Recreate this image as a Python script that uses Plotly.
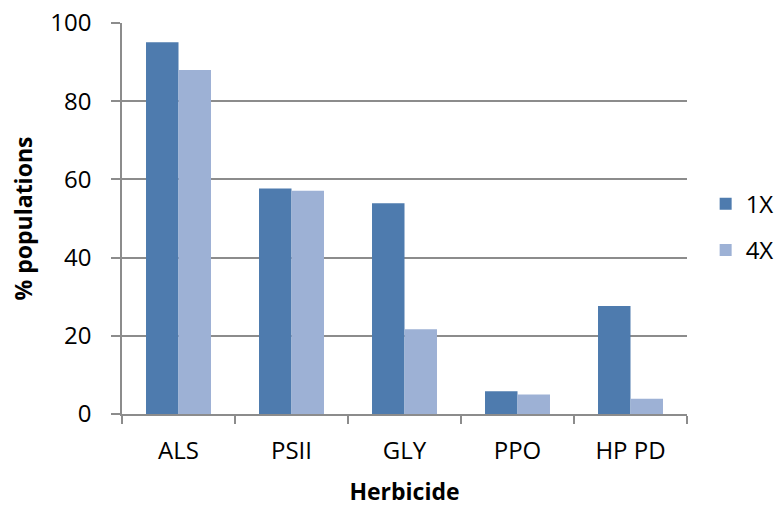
import plotly.graph_objects as go

categories = ["ALS", "PSII", "GLY", "PPO", "HP PD"]
series_names = ["1X", "4X"]
values_1x = [95.1, 57.7, 53.9, 5.8, 27.6]
values_4x = [88.0, 57.1, 21.7, 5.0, 3.9]
colors = ["#4E7BAE", "#9DB1D5"]
y_ticks = [0, 20, 40, 60, 80, 100]

FONT = "Open Sans"

fig = go.Figure()
for name, vals, col in zip(series_names, [values_1x, values_4x], colors):
    fig.add_trace(go.Bar(
        x=categories, y=vals, name=name, legendgroup=name,
        marker=dict(color=col, line=dict(width=0)),
    ))

fig.update_layout(
    width=777, height=508,
    margin=dict(l=122, r=90, t=23, b=94, autoexpand=False),
    paper_bgcolor="white", plot_bgcolor="white",
    barmode="group", bargap=0.425, bargroupgap=0,
    font=dict(family=FONT, color="#000000", size=24),
    legend=dict(
        x=1.033, y=0.478, xanchor="left", yanchor="middle",
        font=dict(size=24, family=FONT), tracegroupgap=12,
        itemwidth=30, bgcolor="rgba(0,0,0,0)",
    ),
    showlegend=True,
)
fig.update_yaxes(
    range=[0, 100], tickvals=y_ticks, ticktext=[str(v) for v in y_ticks],
    showgrid=True, gridcolor="#8C8C8C", gridwidth=1.5,
    showline=True, linecolor="#8C8C8C", linewidth=1.5,
    ticks="outside", ticklen=9, tickcolor="#8C8C8C", tickwidth=1.5,
    ticklabelstandoff=15, tickfont=dict(size=24, family=FONT),
    zeroline=False, automargin=False,
    title=dict(text="<b>% populations</b>", font=dict(size=23, family=FONT), standoff=11),
)
fig.update_xaxes(
    showline=True, linecolor="#8C8C8C", linewidth=1.5,
    ticks="outside", tickson="boundaries", ticklen=8, tickcolor="#8C8C8C", tickwidth=1.5,
    tickfont=dict(size=24, family=FONT), ticklabelstandoff=14, automargin=False,
    title=dict(text="<b>Herbicide</b>", font=dict(size=23, family=FONT), standoff=19),
)

fig.write_html(
    "out.html",
    config={"displayModeBar": False},
    post_script="document.body.style.margin='0px';",
)
